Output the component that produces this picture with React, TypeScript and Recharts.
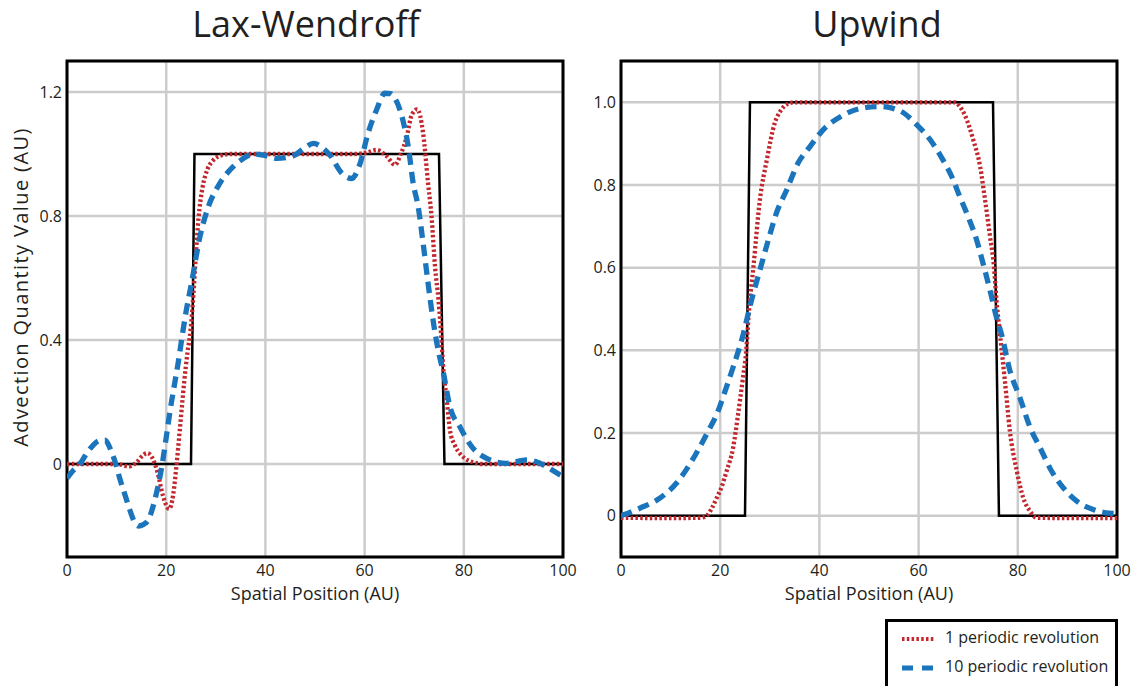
import { LineChart, Line, XAxis, YAxis, CartesianGrid, ReferenceArea, Label } from "recharts";

type Pair = [number, number];

// axis ticks
const xTicks = [0, 20, 40, 60, 80, 100];
const laxYTicks = [0, 0.4, 0.8, 1.2];
const upwindYTicks = [0, 0.2, 0.4, 0.6, 0.8, 1.0];
const laxYDomain: Pair = [-0.3, 1.3];
const upwindYDomain: Pair = [-0.1, 1.1];

const titles = ["Lax-Wendroff", "Upwind"];
const seriesNames = ["1 periodic revolution", "10 periodic revolution"];

// Lax-Wendroff panel
const laxExact: Pair[] = [[0, 0], [25, 0], [25.7, 1], [75, 1], [76.1, 0], [100, 0]];
const laxOne: Pair[] = [
  [0, 0], [6, 0], [10, 0], [12.5, -0.008], [14, 0.005], [15.3, 0.028], [16.2, 0.035], [17.2, 0.02],
  [18.3, -0.03], [19.3, -0.1], [20.6, -0.145], [21.4, -0.1], [22.1, 0], [22.8, 0.12], [23.6, 0.26],
  [24.3, 0.36], [24.9, 0.43], [25.5, 0.55], [26, 0.68], [26.5, 0.79], [27.3, 0.89], [28.3, 0.95],
  [29.5, 0.98], [31, 0.995], [33, 1], [40, 1], [50, 1], [58, 1], [60.5, 1.005], [62.4, 1.013],
  [64.5, 0.992], [66.1, 0.965], [67.3, 1.0], [68.5, 1.056], [69.5, 1.126], [70.6, 1.144], [71.8, 1.067],
  [72.8, 0.905], [73.5, 0.798], [74.2, 0.636], [74.9, 0.529], [75.5, 0.4], [75.9, 0.3], [76.5, 0.217],
  [77.2, 0.11], [78.2, 0.06], [79.2, 0.034], [80.5, 0.015], [82, 0.005], [84, 0], [90, 0], [100, 0],
];
const laxTen: Pair[] = [
  [0, -0.046], [1.3, -0.02], [2.6, 0.0], [4, 0.035], [5.3, 0.061], [6.5, 0.075], [7.7, 0.077], [8.7, 0.05],
  [9.7, 0.007], [10.7, -0.05], [11.7, -0.1], [12.7, -0.15], [13.7, -0.19], [14.4, -0.2], [15.4, -0.195],
  [16.4, -0.18], [17.7, -0.116], [19.2, 0.0], [20, 0.085], [20.8, 0.174], [21.6, 0.25], [22.4, 0.325],
  [23.1, 0.4], [24.1, 0.5], [25.1, 0.583], [26.8, 0.733], [28.5, 0.83], [30.8, 0.905], [33.5, 0.959],
  [35.5, 0.985], [37.6, 1.0], [40, 0.995], [42.3, 0.986], [45.6, 0.994], [47.5, 1.015], [49.7, 1.034],
  [51.5, 1.02], [53, 0.997], [55.4, 0.938], [57.4, 0.921], [59.1, 0.97], [60.7, 1.067], [62.4, 1.142],
  [64.1, 1.196], [65.2, 1.195], [66.1, 1.18], [67.8, 1.104], [68.8, 1.024], [69.8, 0.905], [70.8, 0.83],
  [71.8, 0.712], [72.8, 0.583], [73.9, 0.454], [74.8, 0.37], [75.9, 0.293], [77.2, 0.185], [79.2, 0.12],
  [81.6, 0.056], [84.6, 0.018], [88.6, 0.002], [92.7, 0.013], [94.5, 0.008], [96.7, -0.009],
  [99.4, -0.035], [100, -0.04],
];

// Upwind panel
const upwindExact: Pair[] = [[0, 0], [25, 0], [26, 1], [75, 1], [76.2, 0], [100, 0]];
const upwindOne: Pair[] = [
  [0, -0.005], [10, -0.006], [16, -0.005], [17.3, 0], [18.3, 0.018], [19.3, 0.043], [20.3, 0.07],
  [21.3, 0.108], [22.6, 0.164], [23.6, 0.245], [24.5, 0.326], [25.3, 0.407], [25.7, 0.48], [26.7, 0.602],
  [28, 0.764], [29.4, 0.861], [31, 0.95], [32.2, 0.98], [33.4, 0.995], [35, 1], [50, 1], [66, 1],
  [67.3, 1.0], [68.3, 0.99], [69.4, 0.967], [71, 0.91], [72.4, 0.845], [73.4, 0.764], [74.4, 0.675],
  [75.2, 0.602], [75.7, 0.521], [76.4, 0.44], [77.4, 0.326], [78.4, 0.205], [79.8, 0.108], [81.1, 0.043],
  [82.4, 0.012], [83.8, -0.005], [90, -0.006], [100, -0.006],
];
const upwindTen: Pair[] = [
  [0, 0.0], [0.5, 0.002], [3.8, 0.018], [7.9, 0.043], [11.2, 0.079], [13.2, 0.112], [15.6, 0.16],
  [17.6, 0.205], [19.3, 0.245], [21, 0.302], [22.6, 0.359], [24.4, 0.428], [26.3, 0.521], [28, 0.594],
  [29.7, 0.667], [31.3, 0.731], [33.4, 0.788], [35.7, 0.853], [38.1, 0.893], [40.8, 0.934], [44.5, 0.967],
  [48.2, 0.985], [52.2, 0.99], [56.3, 0.979], [59.6, 0.946], [62.3, 0.91], [64.7, 0.865], [66.7, 0.82],
  [68.3, 0.772], [70, 0.723], [71.7, 0.667], [73, 0.61], [74.4, 0.545], [75.7, 0.48], [76.8, 0.435],
  [78.4, 0.351], [80.4, 0.286], [82.5, 0.213], [84.5, 0.164], [86.8, 0.108], [89.2, 0.067], [91.9, 0.035],
  [95.2, 0.015], [98.5, 0.006], [100, 0.005],
];

const FONT = '"Open Sans", sans-serif';
const INK = "#231f20";
const RED = "#c1272d";
const BLUE = "#1b75bc";

const toRows = (pairs: Pair[]) => pairs.map(([x, y]) => ({ x, y }));
const fmtY = (v: number) => (v === 0 ? "0" : v.toFixed(1));

const renderXLabel = (props: any) => {
  const vb = props.viewBox;
  return (
    <text x={vb.x + vb.width / 2} y={vb.y + 43} textAnchor="middle" fontSize={18} fill={INK} fontFamily={FONT}>
      Spatial Position (AU)
    </text>
  );
};

// the original label is stretched, so letter spacing widens it
const renderYLabel = (props: any) => {
  const vb = props.viewBox;
  const cx = vb.x + 20;
  const cy = vb.y + vb.height / 2 - 22;
  return (
    <text x={cx} y={cy} transform={`rotate(-90 ${cx} ${cy})`} textAnchor="middle" dominantBaseline="central"
      fontSize={20} letterSpacing={1.4} fill={INK} fontFamily={FONT}>
      Advection Quantity Value (AU)
    </text>
  );
};

interface PanelProps {
  width: number;
  rightMargin: number;
  exact: Pair[];
  one: Pair[];
  ten: Pair[];
  yTicks: number[];
  yDomain: Pair;
  yLabel?: boolean;
}

function Panel({ width, rightMargin, exact, one, ten, yTicks, yDomain, yLabel }: PanelProps) {
  const tickStyle = { fill: INK, fontSize: 16, fontFamily: FONT };
  return (
    <LineChart width={width} height={620} margin={{ top: 61, right: rightMargin, bottom: 23, left: 0 }}>
      <CartesianGrid stroke="#cccccc" strokeWidth={2.5} />
      <XAxis type="number" dataKey="x" domain={[0, 100]} ticks={xTicks} interval={0} allowDataOverflow
        axisLine={false} tickLine={false} tickSize={0} tickMargin={8} height={40} tick={tickStyle}>
        <Label content={renderXLabel} />
      </XAxis>
      <YAxis type="number" domain={yDomain} ticks={yTicks} interval={0} allowDataOverflow tickFormatter={fmtY}
        axisLine={false} tickLine={false} tickSize={0} tickMargin={5} width={67} tick={tickStyle}>
        {yLabel ? <Label content={renderYLabel} /> : null}
      </YAxis>
      <Line data={toRows(exact)} dataKey="y" type="linear" stroke="#000" strokeWidth={2.5}
        dot={false} activeDot={false} isAnimationActive={false} />
      <Line data={toRows(one)} dataKey="y" type="monotone" stroke={RED} strokeWidth={4.3} strokeDasharray="2.5 2.3"
        dot={false} activeDot={false} isAnimationActive={false} />
      <Line data={toRows(ten)} dataKey="y" type="monotone" stroke={BLUE} strokeWidth={5.3} strokeDasharray="11.5 7"
        dot={false} activeDot={false} isAnimationActive={false} />
      <ReferenceArea x1={0} x2={100} y1={yDomain[0]} y2={yDomain[1]} fill="none" fillOpacity={0}
        stroke="#000" strokeWidth={3} ifOverflow="visible" />
    </LineChart>
  );
}

const titleStyle = (center: number): React.CSSProperties => ({
  position: "absolute", left: center - 200, width: 400, top: 6, textAlign: "center",
  fontSize: 36, lineHeight: "36px", color: INK, fontFamily: FONT,
});

export default function App() {
  return (
    <div style={{ position: "absolute", left: 0, top: 0, width: 1132, height: 686, overflow: "hidden", background: "#fff" }}>
      <div style={{ position: "absolute", left: 0, top: 0 }}>
        <Panel width={580} rightMargin={17} exact={laxExact} one={laxOne} ten={laxTen}
          yTicks={laxYTicks} yDomain={laxYDomain} yLabel />
      </div>
      <div style={{ position: "absolute", left: 554, top: 0 }}>
        <Panel width={578} rightMargin={15} exact={upwindExact} one={upwindOne} ten={upwindTen}
          yTicks={upwindYTicks} yDomain={upwindYDomain} />
      </div>
      <div style={titleStyle(306)}>{titles[0]}</div>
      <div style={titleStyle(877)}>{titles[1]}</div>

      <div style={{ position: "absolute", left: 885, top: 619, width: 233, height: 100, boxSizing: "border-box",
        border: "3px solid #000", background: "#fff", fontFamily: FONT, color: INK }}>
        {[RED, BLUE].map((c, i) => (
          <div key={i}>
            <svg style={{ position: "absolute", left: 14, top: (i === 0 ? 17 : 46) - 5 }} width={33} height={10}>
              <line x1={0} y1={5} x2={33} y2={5} stroke={c} strokeWidth={i === 0 ? 4 : 5}
                strokeDasharray={i === 0 ? "2.5 2.3" : "11 9"} />
            </svg>
            <div style={{ position: "absolute", left: 57, top: i === 0 ? 5 : 34, fontSize: 16, lineHeight: "21px", whiteSpace: "nowrap" }}>
              {seriesNames[i]}
            </div>
          </div>
        ))}
      </div>
    </div>
  );
}
